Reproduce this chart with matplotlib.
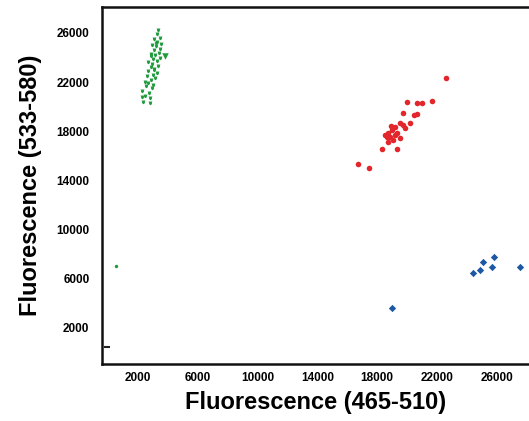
import matplotlib
matplotlib.use("Agg")
import matplotlib.pyplot as plt

plt.rcParams['font.family'] = ['Liberation Sans', 'DejaVu Sans']
plt.rcParams['font.weight'] = 'bold'

# green cluster (465-510 vs 533-580)
green_x = [2350, 2800, 2500, 2750, 2300, 2950, 2550, 3000, 2450, 2850, 3150, 2600, 3000,
           3250, 2700, 3100, 2850, 3350, 2950, 2700, 3300, 3000, 3450, 3150, 2850, 3400,
           3050, 3500, 3200, 2950, 3550, 3300, 3050, 3450, 3250, 3350, 2250, 2800, 2650,
           3100, 2900, 3200]
green_y = [20400, 20700, 20900, 21100, 21300, 21500, 21700, 21800, 22000, 22200, 22300, 22500, 22600,
           22700, 22900, 23000, 23200, 23300, 23500, 23600, 23700, 23900, 24000, 24200, 24300, 24400,
           24600, 24700, 24900, 25000, 25100, 25300, 25500, 25600, 25900, 26200, 20800, 20300, 21900,
           23100, 24100, 25200]
green_out_x = [3800]
green_out_y = [24100]
green_lone_x = [530]
green_lone_y = [7040]

# red cluster
red_x = [22600, 21666, 21000, 20660, 19990, 19725, 20660, 20460, 20190, 19525, 19860, 19190,
         18990, 18720, 18860, 18660, 19525, 19060, 18720, 18320, 19320, 16720, 17450,
         18900, 19300, 19700, 18500, 19200]
red_y = [22340, 20470, 20300, 20300, 20390, 19490, 19410, 19330, 18680, 18680, 18270, 18350,
         18110, 17860, 17540, 17540, 17460, 17290, 17130, 16560, 16560, 15340, 15010,
         18400, 17900, 18500, 17700, 17700]

# blue cluster
blue_x = [18990, 24410, 24880, 25080, 25680, 25810, 27550]
blue_y = [3620, 6470, 6720, 7370, 6960, 7770, 6960]

# no template control
ntc_x = [-60]
ntc_y = [450]

xticks = [2000, 6000, 10000, 14000, 18000, 22000, 26000]
yticks = [2000, 6000, 10000, 14000, 18000, 22000, 26000]

fig = plt.figure(figsize=(5.29, 4.21), dpi=100)
ax = fig.add_axes([0.1928, 0.1354, 0.8072, 0.848])

ax.scatter(green_x, green_y, marker='v', s=8, color='#1f9a3c', linewidths=0)
ax.scatter(green_x, green_y, marker='o', s=4, color='#1f9a3c', linewidths=0)
ax.scatter(green_out_x, green_out_y, marker='v', s=22, color='#1f9a3c', linewidths=0)
ax.scatter(green_lone_x, green_lone_y, marker='o', s=6, color='#1f9a3c', linewidths=0)
ax.scatter(red_x, red_y, marker='o', s=16, color='#e3262b', linewidths=0)
ax.scatter(blue_x, blue_y, marker='D', s=14, color='#1d59a3', linewidths=0)
ax.scatter(ntc_x, ntc_y, marker='_', s=20, color='#222222', linewidths=1.5)

ax.set_xlim(-400, 28150)
ax.set_ylim(-930, 28110)
ax.set_xticks(xticks)
ax.set_yticks(yticks)
ax.tick_params(length=0, labelsize=8.5)
ax.tick_params(axis='x', pad=6)
ax.tick_params(axis='y', pad=9)

for side in ['left', 'bottom', 'top']:
    ax.spines[side].set_linewidth(1.8)
    ax.spines[side].set_color('#111111')
ax.spines['right'].set_visible(False)

ax.set_xlabel('Fluorescence (465-510)', fontsize=17, fontweight='bold', labelpad=5)
ax.set_ylabel('Fluorescence (533-580)', fontsize=17, fontweight='bold', labelpad=10)

fig.savefig('out.png', dpi=100)
